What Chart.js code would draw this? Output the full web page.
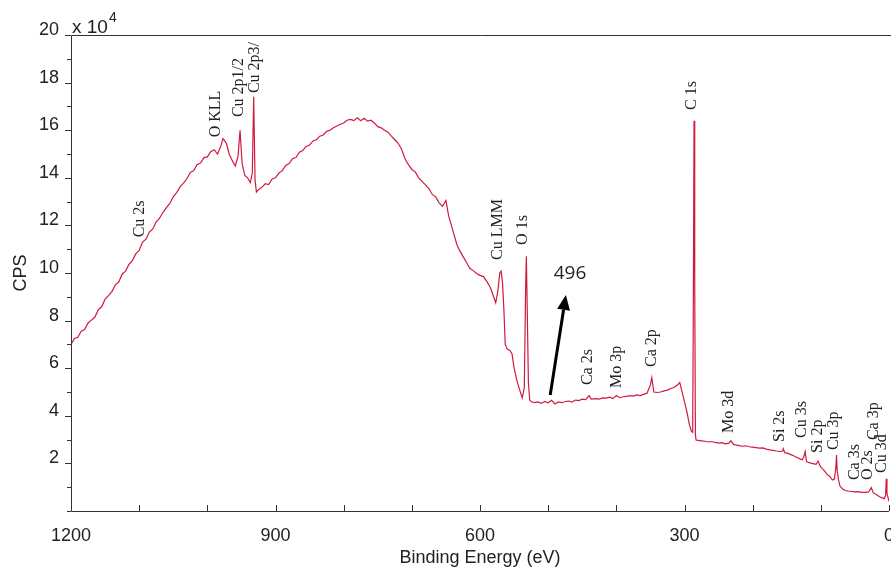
<!DOCTYPE html>
<html>
<head>
<meta charset="utf-8">
<title>XPS survey spectrum</title>
<script src="https://cdn.jsdelivr.net/npm/chart.js"></script>
<style>
  html, body { margin: 0; padding: 0; background: #fff; }
  #wrap { width: 891px; height: 574px; position: relative; }
</style>
</head>
<body>
<div id="wrap"><canvas id="xpsChart"></canvas></div>
<script>
// binding energy (eV) and intensity (CPS, in units of 10^4)
const energy = [
  1200, 1195, 1190, 1185, 1180, 1175, 1170, 1165, 1160, 1155,
  1150, 1145, 1140, 1135, 1130, 1125, 1120, 1115, 1110, 1105,
  1100, 1095, 1090, 1085, 1080, 1075, 1070, 1065, 1060, 1055,
  1050, 1045, 1040, 1035, 1030, 1025, 1020, 1015, 1010, 1005,
  1000, 995, 990, 985, 980, 977, 972, 968, 963, 959,
  955, 952, 949, 945, 941, 937, 934, 932, 930, 928,
  925, 920, 915, 910, 905, 900, 895, 890, 885, 880,
  875, 870, 865, 860, 855, 850, 845, 840, 835, 830,
  825, 820, 815, 810, 805, 800, 795, 790, 785, 780,
  775, 770, 765, 760, 755, 750, 745, 740, 735, 730,
  725, 720, 715, 710, 705, 700, 695, 690, 685, 680,
  675, 670, 665, 660, 655, 650, 646, 642, 638, 634,
  630, 625, 620, 615, 610, 605, 600, 595, 590, 585,
  580, 577, 574, 571, 569, 567, 565, 563, 560, 556,
  553, 550, 546, 542, 538, 535, 533, 532, 531, 529,
  527, 525, 520, 515, 510, 505, 500, 495, 490, 485,
  480, 475, 470, 465, 460, 455, 450, 445, 440, 437,
  430, 425, 420, 415, 410, 405, 400, 395, 390, 385,
  380, 375, 370, 365, 360, 355, 350, 348, 345, 340,
  335, 330, 325, 320, 315, 310, 307, 304, 300, 296,
  293, 290, 288, 287, 286, 285, 284, 283, 280, 275,
  270, 265, 260, 255, 250, 245, 240, 235, 232, 228,
  225, 220, 215, 210, 205, 200, 195, 190, 185, 180,
  175, 170, 165, 160, 156, 155, 153, 148, 145, 140,
  135, 130, 127, 125, 123, 121, 117, 113, 110, 107,
  104, 101, 98, 95, 91, 87, 83, 80, 78, 77,
  76, 74, 72, 68, 64, 60, 55, 50, 45, 40,
  35, 30, 26, 23, 18, 14, 10, 7, 5, 4,
  3, 0
];
const cps = [
  7.00, 7.25, 7.30, 7.55, 7.62, 7.90, 8.02, 8.15, 8.45, 8.58,
  8.90, 9.05, 9.22, 9.50, 9.62, 9.95, 10.08, 10.36, 10.52, 10.80,
  10.95, 11.30, 11.42, 11.72, 11.85, 12.15, 12.30, 12.55, 12.75, 12.92,
  13.20, 13.38, 13.62, 13.78, 13.96, 14.22, 14.30, 14.55, 14.62, 14.85,
  14.88, 15.10, 15.18, 15.00, 15.35, 15.65, 15.45, 15.00, 14.70, 14.50,
  14.90, 16.00, 14.60, 14.10, 14.00, 13.80, 14.20, 17.40, 13.90, 13.40,
  13.50, 13.60, 13.75, 13.72, 13.95, 14.00, 14.20, 14.30, 14.52, 14.60,
  14.80, 14.85, 15.08, 15.15, 15.32, 15.38, 15.55, 15.60, 15.75, 15.80,
  15.95, 16.00, 16.10, 16.18, 16.25, 16.30, 16.42, 16.45, 16.40, 16.52,
  16.40, 16.50, 16.38, 16.42, 16.30, 16.15, 16.10, 16.00, 15.92, 15.75,
  15.60, 15.45, 15.20, 14.80, 14.55, 14.35, 14.25, 14.00, 13.85, 13.70,
  13.55, 13.30, 13.20, 12.95, 12.80, 13.05, 12.40, 12.00, 11.60, 11.20,
  10.95, 10.70, 10.45, 10.20, 10.10, 9.98, 9.90, 9.85, 9.65, 9.40,
  9.00, 8.75, 9.20, 10.00, 10.08, 9.60, 8.50, 7.00, 6.80, 6.75,
  6.60, 6.00, 5.50, 5.10, 4.75, 5.20, 9.50, 10.70, 9.00, 5.40,
  4.65, 4.60, 4.55, 4.58, 4.52, 4.60, 4.55, 4.65, 4.50, 4.58,
  4.55, 4.60, 4.62, 4.58, 4.66, 4.64, 4.70, 4.68, 4.85, 4.70,
  4.72, 4.70, 4.75, 4.74, 4.78, 4.72, 4.85, 4.76, 4.80, 4.82,
  4.85, 4.83, 4.88, 4.85, 4.90, 4.95, 5.30, 5.60, 5.00, 4.98,
  5.00, 5.05, 5.08, 5.15, 5.20, 5.30, 5.40, 5.05, 4.60, 4.10,
  3.65, 3.35, 3.30, 9.00, 16.40, 9.50, 3.20, 2.98, 2.97, 2.95,
  2.93, 2.90, 2.92, 2.88, 2.85, 2.87, 2.82, 2.85, 2.95, 2.80,
  2.78, 2.75, 2.72, 2.74, 2.70, 2.68, 2.66, 2.64, 2.65, 2.60,
  2.57, 2.55, 2.52, 2.50, 2.52, 2.62, 2.45, 2.42, 2.38, 2.32,
  2.25, 2.18, 2.15, 2.28, 2.50, 2.08, 2.03, 2.00, 1.98, 1.96,
  2.10, 1.88, 1.78, 1.70, 1.55, 1.45, 1.30, 1.35, 1.80, 2.35,
  1.70, 1.30, 1.05, 0.92, 0.86, 0.84, 0.82, 0.80, 0.81, 0.78,
  0.78, 0.80, 0.98, 0.76, 0.68, 0.60, 0.55, 0.52, 0.66, 1.35,
  0.75, 0.40
];

// tick labels
const xTickLabels = [1200, 900, 600, 300, 0];
const yTickLabels = [2, 4, 6, 8, 10, 12, 14, 16, 18, 20];

// peak assignments: text starts at (energy, level) and runs upward
const peakNames  = ['Cu 2s', 'O KLL', 'Cu 2p1/2', 'Cu 2p3/', 'Cu LMM', 'O 1s', 'Ca 2s', 'Mo 3p', 'Ca 2p', 'C 1s',
                    'Mo 3d', 'Si 2s', 'Cu 3s', 'Si 2p', 'Cu 3p', 'Ca 3s', 'O 2s', 'Ca 3p', 'Cu 3d'];
const peakEnergy = [1099, 987, 954, 930, 574, 537, 442, 399, 348, 289,
                    235, 160, 128, 104, 81, 50, 31, 22, 10];
const peakLevel  = [11.5, 15.7, 16.55, 17.56, 10.55, 11.18, 5.29, 5.17, 6.05, 16.85,
                    3.28, 2.9, 3.07, 2.44, 2.56, 1.3, 1.3, 2.98, 1.6];

// arrow marking 496 eV
const arrowEnergy = [497, 474];
const arrowLevel  = [4.87, 9.08];
const arrowText = '496';
const arrowTextAt = [468, 9.96];

const lineColor = '#cf1a40';
const sansFont = '"Liberation Sans", Arial, sans-serif';

const decorations = {
  id: 'decorations',
  afterDraw(chart) {
    const { ctx, chartArea: a, scales: { x, y } } = chart;
    ctx.save();

    // frame: left, top and bottom (right edge falls off the picture)
    ctx.strokeStyle = '#333';
    ctx.lineWidth = 1;
    ctx.beginPath();
    ctx.moveTo(chart.width, a.top + 0.5);
    ctx.lineTo(a.left + 0.5, a.top + 0.5);
    ctx.lineTo(a.left + 0.5, a.bottom + 0.5);
    ctx.lineTo(a.right, a.bottom + 0.5);

    // x ticks every 100 eV, pointing into the plot
    x.ticks.forEach(t => {
      const px = Math.round(x.getPixelForValue(t.value)) + 0.5;
      ctx.moveTo(px, a.bottom);
      ctx.lineTo(px, a.bottom - 6);
    });
    // y ticks, pointing out, longer at the labelled ones
    y.ticks.forEach(t => {
      const py = Math.round(y.getPixelForValue(t.value)) + 0.5;
      const len = yTickLabels.includes(t.value) ? 6 : 4;
      ctx.moveTo(a.left, py);
      ctx.lineTo(a.left - len, py);
    });
    ctx.stroke();

    // y tick labels sit just above their tick
    ctx.fillStyle = '#222';
    ctx.font = '18px ' + sansFont;
    ctx.textAlign = 'right';
    ctx.textBaseline = 'alphabetic';
    yTickLabels.forEach(v => {
      ctx.fillText(String(v), a.left - 12, Math.round(y.getPixelForValue(v)));
    });

    // x 10^4 multiplier
    ctx.textAlign = 'left';
    ctx.font = '19px ' + sansFont;
    ctx.fillText('x 10', a.left + 1, a.top - 2);
    const w = ctx.measureText('x 10').width;
    ctx.font = '14px ' + sansFont;
    ctx.fillText('4', a.left + 2 + w, a.top - 13);

    // peak labels, rotated
    ctx.font = '16px "Liberation Serif", "Times New Roman", serif';
    ctx.textBaseline = 'middle';
    peakNames.forEach((name, i) => {
      ctx.save();
      ctx.translate(x.getPixelForValue(peakEnergy[i]), y.getPixelForValue(peakLevel[i]));
      ctx.rotate(-Math.PI / 2);
      ctx.fillText(name, 0, 0);
      ctx.restore();
    });

    // arrow
    const x0 = x.getPixelForValue(arrowEnergy[0]), y0 = y.getPixelForValue(arrowLevel[0]);
    const x1 = x.getPixelForValue(arrowEnergy[1]), y1 = y.getPixelForValue(arrowLevel[1]);
    const ang = Math.atan2(y1 - y0, x1 - x0);
    const head = 15, half = 6.5;
    const bx = x1 - head * Math.cos(ang), by = y1 - head * Math.sin(ang);
    ctx.strokeStyle = '#000';
    ctx.lineWidth = 3;
    ctx.beginPath();
    ctx.moveTo(x0, y0);
    ctx.lineTo(bx, by);
    ctx.stroke();
    ctx.fillStyle = '#000';
    ctx.beginPath();
    ctx.moveTo(x1, y1);
    ctx.lineTo(bx + half * Math.sin(ang), by - half * Math.cos(ang));
    ctx.lineTo(bx - half * Math.sin(ang), by + half * Math.cos(ang));
    ctx.closePath();
    ctx.fill();

    ctx.fillStyle = '#222';
    ctx.font = '19px "Open Sans", "Liberation Sans", sans-serif';
    ctx.textAlign = 'center';
    ctx.fillText(arrowText, x.getPixelForValue(arrowTextAt[0]), y.getPixelForValue(arrowTextAt[1]));

    ctx.restore();
  }
};

const points = energy.map((e, i) => ({ x: e, y: cps[i] }));
const axisFont = { family: sansFont, size: 18 };

new Chart(document.getElementById('xpsChart'), {
  type: 'line',
  data: {
    datasets: [{
      data: points,
      borderColor: lineColor,
      borderWidth: 1.2,
      pointRadius: 0,
      tension: 0,
      fill: false
    }]
  },
  options: {
    responsive: true,
    maintainAspectRatio: false,
    animation: false,
    layout: { padding: { top: 35, right: 2, left: 0, bottom: 0 } },
    plugins: { legend: { display: false }, tooltip: { enabled: false } },
    scales: {
      x: {
        type: 'linear',
        reverse: true,
        min: 0,
        max: 1200,
        grid: { display: false },
        border: { display: false },
        ticks: {
          stepSize: 100,
          autoSkip: false,
          maxRotation: 0,
          padding: 6,
          color: '#222',
          font: axisFont,
          callback: v => xTickLabels.includes(v) ? String(v) : ''
        },
        title: {
          display: true,
          text: 'Binding Energy (eV)',
          color: '#222',
          font: axisFont,
          padding: { top: 0, bottom: 5 }
        },
        afterFit: s => { s.height = 63; s.paddingLeft = 0; s.paddingRight = 0; }
      },
      y: {
        min: 0,
        max: 20,
        grid: { display: false },
        border: { display: false },
        ticks: {
          stepSize: 1,
          autoSkip: false,
          callback: () => ''
        },
        title: {
          display: true,
          text: 'CPS',
          color: '#222',
          font: axisFont,
          padding: { top: 10, bottom: 0 }
        },
        afterFit: s => { s.width = 71; s.paddingTop = 0; s.paddingBottom = 0; }
      }
    }
  },
  plugins: [decorations]
});
</script>
</body>
</html>
